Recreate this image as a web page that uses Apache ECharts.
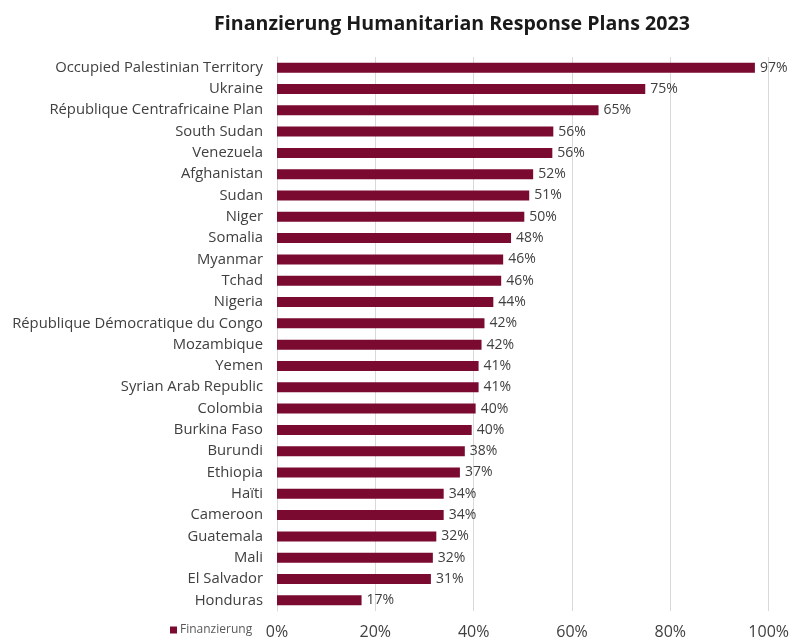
<!DOCTYPE html>
<html><head><meta charset="utf-8">
<script src="https://cdn.jsdelivr.net/npm/echarts@6/dist/echarts.min.js"></script>
<style>html,body{margin:0;padding:0;background:#fff}#c{width:792px;height:640px}</style>
</head><body><div id="c"></div>
<script>
const categories = ["Occupied Palestinian Territory","Ukraine","République Centrafricaine Plan","South Sudan","Venezuela","Afghanistan","Sudan","Niger","Somalia","Myanmar","Tchad","Nigeria","République Démocratique du Congo","Mozambique","Yemen","Syrian Arab Republic","Colombia","Burkina Faso","Burundi","Ethiopia","Haïti","Cameroon","Guatemala","Mali","El Salvador","Honduras"];
const funding = [97.2,74.9,65.4,56.2,56.0,52.1,51.3,50.3,47.6,46.0,45.6,44.0,42.2,41.6,41.0,41.0,40.4,39.6,38.2,37.2,33.9,33.9,32.4,31.7,31.3,17.2];
const xTicks = ["0%","20%","40%","60%","80%","100%"];
const seriesName = "Finanzierung";
const title = "Finanzierung Humanitarian Response Plans 2023";

const chart = echarts.init(document.getElementById('c'), null, {renderer:'canvas'});
chart.setOption({
  animation:false,
  textStyle:{fontFamily:'Open Sans'},
  title:{text:title,left:447,textAlign:'center',top:9,textStyle:{fontFamily:'Open Sans',fontWeight:'bold',fontSize:19.6,color:'#1a1a1a'}},
  legend:{data:[seriesName],left:165,top:619,itemWidth:7,itemHeight:7,itemGap:3,icon:'rect',textStyle:{fontSize:12,color:'#595959',padding:[0,0,0,-2]}},
  grid:{left:277,right:17,top:57,bottom:29,containLabel:false},
  xAxis:{type:'value',min:0,max:100,interval:20,
    axisLabel:{formatter:v=>xTicks[v/20],fontSize:16,color:'#404040',margin:13},
    splitLine:{show:true,lineStyle:{color:'#d9d9d9',width:1}},
    axisLine:{show:false},axisTick:{show:false}},
  yAxis:{type:'category',data:categories,inverse:true,
    axisLabel:{fontSize:14.8,color:'#404040',margin:14},
    axisLine:{show:true,lineStyle:{color:'#d9d9d9'}},axisTick:{show:false}},
  series:[{name:seriesName,type:'bar',data:funding,barWidth:10,
    itemStyle:{color:'#7a0a2f'},
    label:{show:true,position:'right',distance:5,fontSize:14,color:'#404040',formatter:p=>Math.round(p.value)+'%'}}]
});
</script></body></html>
